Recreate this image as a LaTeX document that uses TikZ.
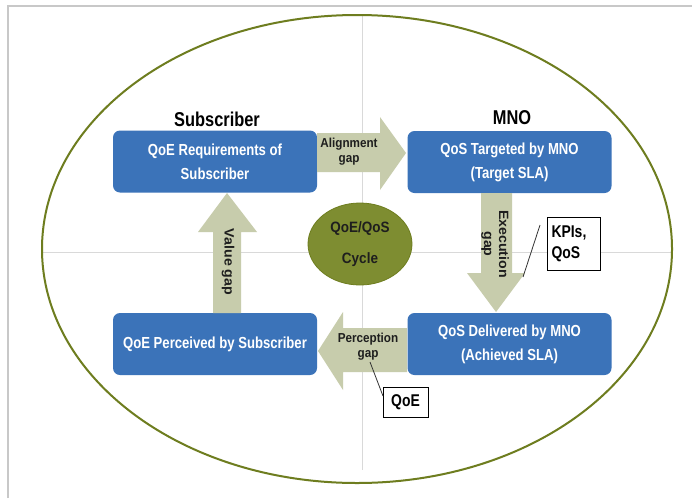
\documentclass[tikz,border=0pt]{standalone}
\usepackage{fontspec}
\usetikzlibrary{shapes.geometric}
\setmainfont{Liberation Sans}
\newfontfamily\narrowfont{Liberation Sans}[FakeStretch=0.82]
\newfontfamily\lblfont{Liberation Sans}[FakeStretch=0.9]
\newfontfamily\vlblfont{Liberation Sans}[FakeStretch=1.05]
\definecolor{boxblue}{HTML}{3B73B9}
\definecolor{arrowfill}{HTML}{C7CCAC}
\definecolor{ringolive}{HTML}{6E7D1F}
\definecolor{cyclefill}{HTML}{7E8D31}
\definecolor{gridgray}{HTML}{D9D9D9}
\definecolor{framegray}{HTML}{C8C8C8}
\definecolor{txtdark}{HTML}{1E1E1E}
\begin{document}
\begin{tikzpicture}[x=1pt,y=-1pt,
  bluebox/.style={fill=boxblue, rounded corners=7pt, minimum width=204pt, minimum height=62pt,
    align=center, text=white, inner sep=0pt,
    font=\narrowfont\bfseries\fontsize{16}{24}\selectfont},
  gapshape/.style={fill=arrowfill},
  gaplabel/.style={align=center, text=txtdark, inner sep=0pt,
    font=\lblfont\bfseries\fontsize{13}{15}\selectfont},
  vgaplabel/.style={align=center, text=txtdark, inner sep=0pt, rotate=-90,
    font=\vlblfont\bfseries\fontsize{13.5}{15}\selectfont},
  sidelabel/.style={text=black, inner sep=0pt, font=\narrowfont\bfseries\fontsize{20}{22}\selectfont},
  callbox/.style={draw=black, line width=0.9pt, fill=white, align=left, inner sep=0pt,
    font=\narrowfont\bfseries\fontsize{17}{21}\selectfont},
  callline/.style={draw=black!80, line width=0.8pt}
]
\useasboundingbox (0,0) rectangle (692,498);
\fill[white] (0,0) rectangle (692,498);
% frame
\draw[framegray, line width=1.2pt] (8,498) -- (8,6) -- (692,6);
% guide lines
\draw[gridgray, line width=1pt] (362,16) -- (362,470);
\draw[gridgray, line width=1pt] (42,252) -- (672,252);
% outer ellipse
\draw[ringolive, line width=2pt] (357,249) ellipse [x radius=315, y radius=234];

% boxes
\node[bluebox] (req) at (215,161.5) {QoE Requirements of\\Subscriber};
\node[bluebox] (tgt) at (509.5,162) {QoS Targeted by MNO\\(Target SLA)};
\node[bluebox] (per) at (215,344) {QoE Perceived by Subscriber};
\node[bluebox] (del) at (509.5,344) {QoS Delivered by MNO\\(Achieved SLA)};

% side labels
\node[sidelabel] (sub) at (217,119) {Subscriber};
\node[sidelabel] (mno) at (512,118) {MNO};

% gap arrows
\fill[gapshape] (317,133) -- (380,133) -- (380,117) -- (406,153) -- (380,190) -- (380,172) -- (317,172) -- cycle;
\node[gaplabel] (align) at (349,152) {Alignment\\gap};

\fill[gapshape] (481,193) -- (512,193) -- (512,273) -- (525,273) -- (496,312) -- (467,273) -- (481,273) -- cycle;
\node[vgaplabel] (exec) at (495,244) {Execution\\gap};

\fill[gapshape] (213,313) -- (241,313) -- (241,232) -- (257,232) -- (227,193) -- (198,232) -- (213,232) -- cycle;
\node[vgaplabel] (value) at (228,262) {Value gap};

\fill[gapshape] (407,328) -- (343,328) -- (343,312) -- (318,351) -- (343,390) -- (343,372) -- (407,372) -- cycle;
\node[gaplabel] (perc) at (368,347) {Perception\\gap};

% cycle ellipse
\node[ellipse, draw=ringolive, fill=cyclefill, line width=0.8pt, minimum width=104pt, minimum height=82pt,
  inner sep=0pt, align=center, text=txtdark, font=\lblfont\bfseries\fontsize{15}{31}\selectfont] (cyc) at (360,244) {QoE/QoS\\Cycle};

% callouts
\node[callbox, minimum width=53pt, minimum height=53pt, text width=44pt] (kpi) at (573.5,243.5) {KPIs,\\QoS};
\coordinate (kpiA) at (540,225);
\coordinate (kpiB) at (523,277);
\draw[callline] (kpiA) -- (kpiB);

\node[callbox, minimum width=45pt, minimum height=30pt, align=center] (qoe) at (405.5,402) {QoE};
\coordinate (qoeA) at (370,362);
\coordinate (qoeB) at (383,396);
\draw[callline] (qoeA) -- (qoeB);
\end{tikzpicture}
\end{document}
